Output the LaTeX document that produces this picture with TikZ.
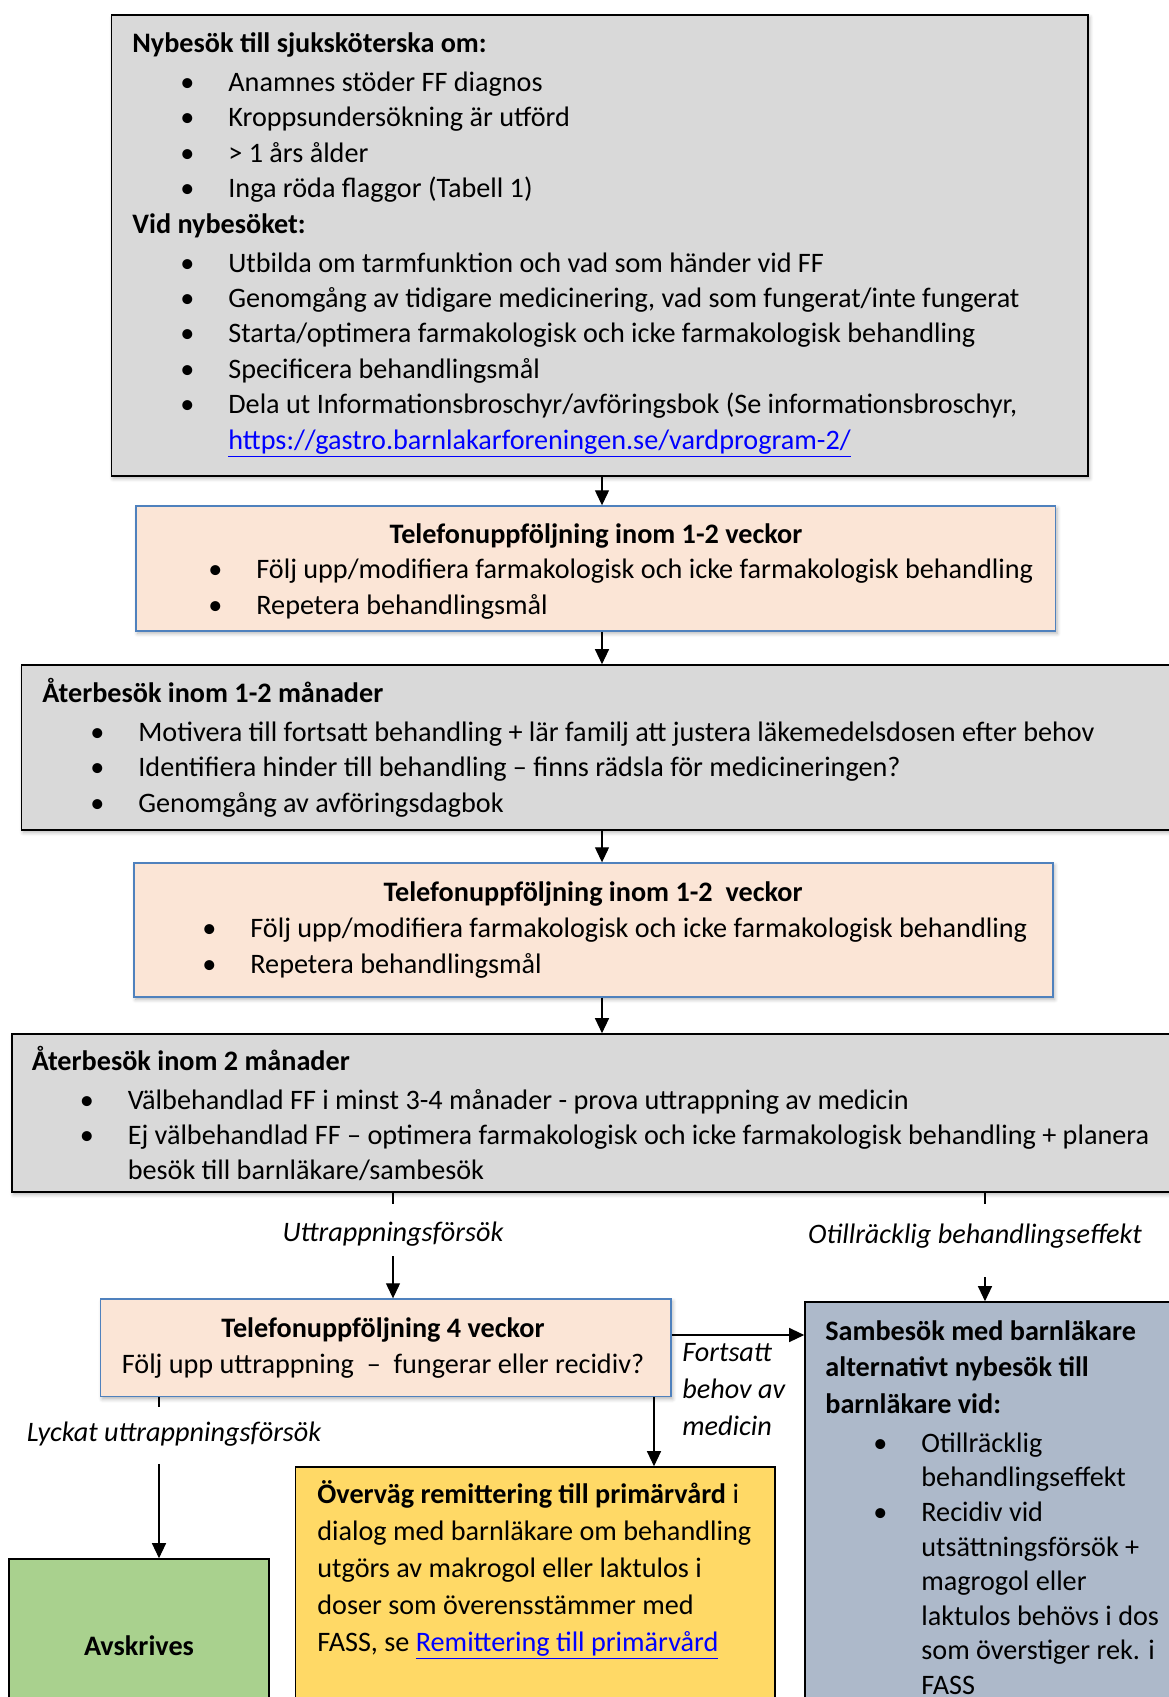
\documentclass[tikz,border=0pt]{standalone}
\usepackage{fontspec}
\setmainfont{Carlito}
\usetikzlibrary{arrows.meta,fit,shadows.blur}

\definecolor{boxgray}{HTML}{D9D9D9}
\definecolor{peach}{HTML}{FBE5D6}
\definecolor{phoneblue}{HTML}{4F81BD}
\definecolor{primyellow}{HTML}{FFD966}
\definecolor{avskgreen}{HTML}{A9D18E}
\definecolor{sambslate}{HTML}{ADB9CA}
\definecolor{linkblue}{HTML}{0000FF}

\newcommand\bul{\makebox[0pt]{\textbullet}\hspace{20.5pt}}
\newcommand\weblink[1]{\textcolor{linkblue}{\underline{#1}}}

\begin{document}
\begin{tikzpicture}[x=0.5pt,y=-0.5pt,>={Triangle[length=7.5pt,width=7pt]},
    font=\fontsize{14.1}{18}\selectfont]
        \tikzstyle{box}=[draw,inner sep=0pt,line width=0.8pt]
        \tikzstyle{shade}=[blur shadow={shadow blur steps=5,shadow xshift=0.8pt,shadow yshift=-1.2pt,shadow opacity=30}]
        \tikzstyle{graybox}=[box,shade,fill=boxgray]
        \tikzstyle{phone}=[box,shade,draw=phoneblue,fill=peach,line width=0.7pt]
        % base = baseline of the last line
        \tikzstyle{txt}=[inner sep=0pt,anchor=base west,align=left]
        \tikzstyle{head}=[inner sep=0pt,anchor=base,font=\fontsize{14.1}{18}\selectfont\bfseries]
        \tikzstyle{lbl}=[inner sep=0pt,anchor=base,font=\fontsize{14.1}{18}\selectfont\itshape]
        \useasboundingbox (0,0) rectangle (1168,1697);

        % boxes
        \node[graybox,fit={(111.5,15)(1088,476)}] (nybesok) {};
        \node[phone,fit={(136,506)(1055.5,631)}] (tel1) {};
        \node[graybox,fit={(21.6,665)(1190,830)}] (ater1) {};
        \node[phone,fit={(134,863)(1053,997)}] (tel2) {};
        \node[graybox,fit={(12,1034)(1190,1192)}] (ater2) {};
        \node[phone,fit={(100.7,1299)(671,1396.5)}] (tel3) {};
        \node[box,fill=sambslate,fit={(805,1302)(1190,1710)}] (samb) {};
        \node[box,fill=primyellow,fit={(295.5,1467)(775,1710)}] (prim) {};
        \node[box,fill=avskgreen,fit={(9,1559)(268.7,1710)}] (avsk) {};

        % texts
        \node[txt,font=\fontsize{14.1}{17.7}\selectfont] (nybesoktxt) at (132,449) {\textbf{Nybesök till sjuksköterska om:}\\[1.8pt]
            \hspace*{27.5pt}\bul Anamnes stöder FF diagnos\\
            \hspace*{27.5pt}\bul Kroppsundersökning är utförd\\
            \hspace*{27.5pt}\bul > 1 års ålder\\
            \hspace*{27.5pt}\bul Inga röda flaggor (Tabell 1)\\
            \textbf{Vid nybesöket:}\\[1.8pt]
            \hspace*{27.5pt}\bul Utbilda om tarmfunktion och vad som händer vid FF\\
            \hspace*{27.5pt}\bul Genomgång av tidigare medicinering, vad som fungerat/inte fungerat\\
            \hspace*{27.5pt}\bul Starta/optimera farmakologisk och icke farmakologisk behandling\\
            \hspace*{27.5pt}\bul Specificera behandlingsmål\\
            \hspace*{27.5pt}\bul Dela ut Informationsbroschyr/avföringsbok (Se informationsbroschyr,\\
            \hspace*{48pt}\weblink{https://gastro.barnlakarforeningen.se/vardprogram-2/}};
        \node[head] (tel1head) at (596,543) {Telefonuppföljning inom 1-2 veckor};
        \node[txt] (tel1txt) at (215,614) {\bul Följ upp/modifiera farmakologisk och icke farmakologisk behandling\\
            \bul Repetera behandlingsmål};
        \node[txt,font=\fontsize{14.1}{17.6}\selectfont] (ater1txt) at (42,812) {\textbf{Återbesök inom 1-2 månader}\\[1.8pt]
            \hspace*{27.5pt}\bul Motivera till fortsatt behandling + lär familj att justera läkemedelsdosen efter behov\\
            \hspace*{27.5pt}\bul Identifiera hinder till behandling – finns rädsla för medicineringen?\\
            \hspace*{27.5pt}\bul Genomgång av avföringsdagbok};
        \node[head] (tel2head) at (593,901) {Telefonuppföljning inom 1-2\ \ veckor};
        \node[txt] (tel2txt) at (209,973.6) {\bul Följ upp/modifiera farmakologisk och icke farmakologisk behandling\\
            \bul Repetera behandlingsmål};
        \node[txt,font=\fontsize{14.1}{17.4}\selectfont] (ater2txt) at (31.4,1179) {\textbf{Återbesök inom 2 månader}\\[2pt]
            \hspace*{27.5pt}\bul Välbehandlad FF i minst 3-4 månader - prova uttrappning av medicin\\
            \hspace*{27.5pt}\bul Ej välbehandlad FF – optimera farmakologisk och icke farmakologisk behandling + planera\\
            \hspace*{48pt}besök till barnläkare/sambesök};
        \node[inner sep=0pt,anchor=base,align=center] (tel3txt) at (383,1373) {\textbf{Telefonuppföljning 4 veckor}\\
            Följ upp uttrappning\ \ –\ \ fungerar eller recidiv?};
        \node[txt,font=\fontsize{14.1}{17.3}\selectfont] (sambtxt) at (825,1694.5) {\textbf{Sambesök med barnläkare}\\[1pt]
            \textbf{alternativt nybesök till}\\[1pt]
            \textbf{barnläkare vid:}\\[2.2pt]
            \hspace*{27.5pt}\bul Otillräcklig\\
            \hspace*{48pt}behandlingseffekt\\
            \hspace*{27.5pt}\bul Recidiv vid\\
            \hspace*{48pt}utsättningsförsök +\\
            \hspace*{48pt}magrogol eller\\
            \hspace*{48pt}laktulos behövs i dos\\
            \hspace*{48pt}som överstiger rek. i\\
            \hspace*{48pt}FASS};
        \node[txt,font=\fontsize{14.1}{18.5}\selectfont] (primtxt) at (317,1651) {\textbf{Överväg remittering till primärvård} i\\
            dialog med barnläkare om behandling\\
            utgörs av makrogol eller laktulos i\\
            doser som överensstämmer med\\
            FASS, se \weblink{Remittering till primärvård}};
        \node[head] (avsktxt) at (139,1655) {Avskrives};

        % edge labels
        \node[lbl,text height=18.5pt,text depth=7.5pt] (uttr) at (393,1241) {Uttrappningsförsök};
        \node[lbl,text height=19.5pt,text depth=17pt] (otill) at (975,1243) {Otillräcklig behandlingseffekt};
        \node[lbl,text height=17pt,text depth=11.25pt] (lyck) at (174,1441) {Lyckat uttrappningsförsök};
        \node[txt,font=\fontsize{14.1}{18.5}\selectfont\itshape] (forts) at (682,1435) {Fortsatt\\behov av\\medicin};

        % connectors
        \coordinate (spine) at (602,0);
        \coordinate (otx) at (985,0);
        \coordinate (lyx) at (159,0);
        \coordinate (px) at (654,0);
        \coordinate (fy) at (0,1335);
        \begin{scope}[line width=0.6pt]
        \draw[->] (nybesok.south -| spine) -- (tel1.north -| spine);
        \draw[->] (tel1.south -| spine) -- (ater1.north -| spine);
        \draw[->] (ater1.south -| spine) -- (tel2.north -| spine);
        \draw[->] (tel2.south -| spine) -- (ater2.north -| spine);
        \draw (ater2.south -| uttr) -- (uttr.north);
        \draw[->] (uttr.south) -- (tel3.north -| uttr);
        \draw (ater2.south -| otx) -- (otill.north -| otx);
        \draw[->] (otill.south -| otx) -- (samb.north -| otx);
        \draw (tel3.south -| lyx) -- (lyck.north -| lyx);
        \draw[->] (lyck.south -| lyx) -- (avsk.north -| lyx);
        \draw[->] (tel3.east |- fy) -- (samb.west |- fy);
        \draw[->] (tel3.south -| px) -- (prim.north -| px);
        \end{scope}
\end{tikzpicture}
\end{document}
